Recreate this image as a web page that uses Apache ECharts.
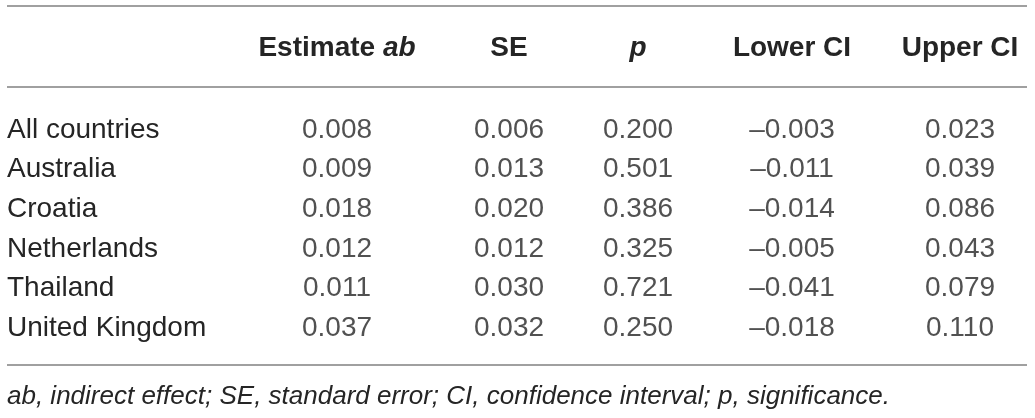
<!DOCTYPE html>
<html>
<head>
<meta charset="utf-8">
<script src="https://cdn.jsdelivr.net/npm/echarts@6/dist/echarts.min.js"></script>
<style>
html, body { margin: 0; padding: 0; background: #fff; }
#main { width: 1035px; height: 418px; }
</style>
</head>
<body>
<div id="main"></div>
<script>
// table data
var countries = ['All countries', 'Australia', 'Croatia', 'Netherlands', 'Thailand', 'United Kingdom'];
var headers = ['Estimate {i|ab}', 'SE', '{i|p}', 'Lower CI', 'Upper CI'];
var estimateAb = [0.008, 0.009, 0.018, 0.012, 0.011, 0.037];
var se = [0.006, 0.013, 0.020, 0.012, 0.030, 0.032];
var pValue = [0.200, 0.501, 0.386, 0.325, 0.721, 0.250];
var lowerCi = [-0.003, -0.011, -0.014, -0.005, -0.041, -0.018];
var upperCi = [0.023, 0.039, 0.086, 0.043, 0.079, 0.110];
var footnote = 'ab, indirect effect; SE, standard error; CI, confidence interval; p, significance.';

(function() {
	var FONT = "'Helvetica Neue', 'Liberation Sans', Arial, sans-serif";
	var TEXT = '#252525';
	var RULE = '#a0a0a0';

	var columns = [estimateAb, se, pValue, lowerCi, upperCi];
	var centers = [337, 509, 638, 792, 960];
	var colWidth = 130;
	var gridTop = 110;
	var gridHeight = 238;

	function $each(arr, fn) {
		for (var k = 0; k < arr.length; k++) {
			fn(k, arr[k]);
		}
	}

	// 负号用短横线
	var fmt = function(v) {
		var s = Math.abs(v).toFixed(3);
		return v < 0 ? '\u2013' + s : s;
	};

	var grids = [];
	var xAxes = [];
	var yAxes = [];
	var series = [];

	// 国家名称列
	grids.push({ left: 7, top: gridTop, width: 220, height: gridHeight });
	xAxes.push({ gridIndex: 0, type: 'category', data: [''], show: false });
	yAxes.push({
		gridIndex: 0,
		type: 'category',
		inverse: true,
		data: countries,
		axisLine: { show: false },
		axisTick: { show: false },
		splitLine: { show: false },
		axisLabel: {
			inside: true,
			margin: 0,
			color: TEXT,
			fontFamily: FONT,
			fontSize: 28
		}
	});

	$each(columns, function(i, values) {
		var gi = i + 1;
		grids.push({ left: centers[i] - colWidth / 2, top: gridTop, width: colWidth, height: gridHeight });
		xAxes.push({
			gridIndex: gi,
			type: 'category',
			position: 'top',
			data: [headers[i]],
			axisLine: { show: false },
			axisTick: { show: false },
			splitLine: { show: false },
			axisLabel: {
				margin: 62,
				verticalAlign: 'middle',
				color: TEXT,
				fontFamily: FONT,
				fontSize: 28,
				fontWeight: 'bold',
				rich: {
					i: { fontFamily: FONT, fontSize: 28, fontWeight: 'bold', fontStyle: 'italic', color: TEXT }
				}
			}
		});
		yAxes.push({ gridIndex: gi, type: 'category', inverse: true, data: countries, show: false });

		var data = [];
		$each(values, function(j, v) {
			data.push({ value: [0, j], text: fmt(v) });
		});
		series.push({
			type: 'scatter',
			xAxisIndex: gi,
			yAxisIndex: gi,
			symbolSize: 1,
			itemStyle: { color: 'rgba(0,0,0,0)' },
			silent: true,
			label: {
				show: true,
				position: 'inside',
				color: TEXT,
				fontFamily: FONT,
				fontSize: 28,
				formatter: function(p) {
					return p.data.text;
				}
			},
			data: data
		});
	});

	var rule = function(y) {
		return {
			type: 'line',
			shape: { x1: 7, y1: y, x2: 1027, y2: y },
			style: { stroke: RULE, lineWidth: 2 }
		};
	};

	var options = {
		animation: false,
		title: {
			text: footnote,
			left: 7,
			top: 384,
			padding: 0,
			textStyle: {
				fontFamily: FONT,
				fontSize: 26,
				fontStyle: 'italic',
				fontWeight: 'normal',
				color: TEXT
			}
		},
		grid: grids,
		xAxis: xAxes,
		yAxis: yAxes,
		series: series,
		graphic: [ rule(6), rule(87), rule(365) ]
	};

	var chart = echarts.init(document.getElementById('main'));
	chart.setOption(options);
})();
</script>
</body>
</html>
